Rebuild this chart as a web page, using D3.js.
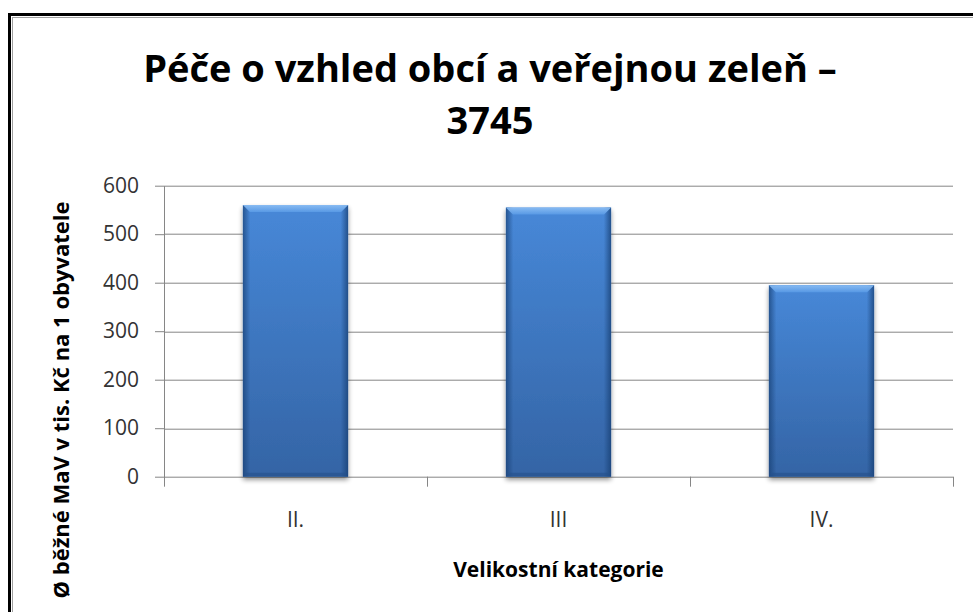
<!DOCTYPE html>
<html>
<head>
<meta charset="utf-8">
<script src="https://cdn.jsdelivr.net/npm/d3@7"></script>
<style>
  body { margin: 0; background: #fff; }
  svg { display: block; font-family: "Open Sans", "Noto Sans", sans-serif; }
</style>
</head>
<body>
<div id="chart"></div>
<script>
// data
const categories = ["II.", "III", "IV."];
const values = [560, 555, 395];
const yTicks = [0, 100, 200, 300, 400, 500, 600];
const titleLines = ["Péče o vzhled obcí a veřejnou zeleň –", "3745"];
const xTitle = "Velikostní kategorie";
const yTitle = "Ø běžné MaV v tis. Kč na 1 obyvatele";

const size = {width: 973, height: 612};
const margin = {top: 185.7, right: 20, bottom: 135.3, left: 164};
const width = size.width - margin.left - margin.right;
const height = size.height - margin.top - margin.bottom;

const svgRoot = d3.select("#chart").append("svg")
    .attr("width", size.width)
    .attr("height", size.height);

// gradients / shadow
const defs = svgRoot.append("defs");
const gFill = defs.append("linearGradient").attr("id", "barFill")
    .attr("x1", 0).attr("y1", 0).attr("x2", 0).attr("y2", 1);
gFill.append("stop").attr("offset", "0%").attr("stop-color", "#4788d8");
gFill.append("stop").attr("offset", "100%").attr("stop-color", "#3464a5");

const gSide = defs.append("linearGradient").attr("id", "barSide")
    .attr("x1", 0).attr("y1", 0).attr("x2", 1).attr("y2", 0);
gSide.append("stop").attr("offset", "0%").attr("stop-color", "#173f73").attr("stop-opacity", 0.7);
gSide.append("stop").attr("offset", "7%").attr("stop-color", "#173f73").attr("stop-opacity", 0);
gSide.append("stop").attr("offset", "93%").attr("stop-color", "#173f73").attr("stop-opacity", 0);
gSide.append("stop").attr("offset", "100%").attr("stop-color", "#173f73").attr("stop-opacity", 0.75);

const gTop = defs.append("linearGradient").attr("id", "barTop")
    .attr("x1", 0).attr("y1", 0).attr("x2", 0).attr("y2", 1);
gTop.append("stop").attr("offset", "0%").attr("stop-color", "#8ec0f5");
gTop.append("stop").attr("offset", "100%").attr("stop-color", "#5a9be6");

const shadow = defs.append("filter").attr("id", "barShadow")
    .attr("x", "-10%").attr("y", "-10%").attr("width", "120%").attr("height", "120%");
shadow.append("feGaussianBlur").attr("in", "SourceAlpha").attr("stdDeviation", 2.5);
shadow.append("feOffset").attr("dx", 0).attr("dy", 3).attr("result", "off");
shadow.append("feComponentTransfer").append("feFuncA").attr("type", "linear").attr("slope", 0.45);
const merge = shadow.append("feMerge");
merge.append("feMergeNode");
merge.append("feMergeNode").attr("in", "SourceGraphic");

// frame
svgRoot.append("rect")
    .attr("x", 9.5).attr("y", 14.5)
    .attr("width", 1100).attr("height", 800)
    .attr("fill", "none").attr("stroke", "#000").attr("stroke-width", 3);
svgRoot.append("rect")
    .attr("x", 12.5).attr("y", 17.5)
    .attr("width", 1100).attr("height", 800)
    .attr("fill", "none").attr("stroke", "#a0a0a0").attr("stroke-width", 1);

// title
svgRoot.append("text")
    .attr("text-anchor", "middle")
    .style("font-size", "38px").style("font-weight", "bold").attr("fill", "#000")
    .selectAll("tspan").data(titleLines).join("tspan")
    .attr("x", 490)
    .attr("y", (d, i) => 82 + i * 52)
    .text(d => d);

const svg = svgRoot.append("g")
    .attr("transform", "translate(" + margin.left + "," + margin.top + ")");

const xScale = d3.scaleBand().domain(categories).range([0, width])
    .paddingInner(0.6).paddingOuter(0.3);
const yScale = d3.scaleLinear().domain([0, 600]).range([height, 0]);

// gridlines
svg.append("g").attr("class", "grid")
    .selectAll("line").data(yTicks).join("line")
    .attr("x1", 0).attr("x2", width)
    .attr("y1", d => Math.round(yScale(d)) + 0.5)
    .attr("y2", d => Math.round(yScale(d)) + 0.5)
    .attr("stroke", "#868686").attr("stroke-width", 1);

// y axis
const yAxisG = svg.append("g").attr("class", "yAxisG")
    .call(d3.axisLeft(yScale).tickValues(yTicks).tickSize(9).tickSizeOuter(0).tickPadding(16));
yAxisG.select(".domain").attr("stroke", "#868686");
yAxisG.selectAll(".tick line").attr("stroke", "#868686");
yAxisG.selectAll(".tick text")
    .style("font-size", "21px").style("font-family", "Open Sans").attr("fill", "#333");

// x axis: tick marks between categories
const step = xScale.step();
const xBounds = d3.range(categories.length + 1).map(i => i * step);
svg.append("g").attr("class", "xTicks")
    .selectAll("line").data(xBounds).join("line")
    .attr("x1", d => Math.round(d) + 0.5).attr("x2", d => Math.round(d) + 0.5)
    .attr("y1", height).attr("y2", height + 10)
    .attr("stroke", "#868686");
svg.append("g").attr("class", "xLabels")
    .selectAll("text").data(categories).join("text")
    .attr("text-anchor", "middle")
    .attr("x", d => xScale(d) + xScale.bandwidth() / 2)
    .attr("y", height + 50)
    .style("font-size", "21px").attr("fill", "#333")
    .text(d => d);

// bars
const bars = svg.append("g").attr("class", "bars")
    .selectAll("g").data(categories.map((c, i) => ({cat: c, value: values[i]}))).join("g")
    .attr("transform", d => "translate(" + xScale(d.cat) + "," + yScale(d.value) + ")");
const bw = xScale.bandwidth();
const bevel = 7;
bars.append("rect")
    .attr("width", bw).attr("height", d => height - yScale(d.value))
    .attr("fill", "url(#barFill)").attr("filter", "url(#barShadow)");
bars.append("rect")
    .attr("width", bw).attr("height", d => height - yScale(d.value))
    .attr("fill", "url(#barSide)");
// top bevel
bars.append("path")
    .attr("d", "M0,0 L" + bw + ",0 L" + (bw - bevel) + "," + bevel + " L" + bevel + "," + bevel + " Z")
    .attr("fill", "url(#barTop)").attr("opacity", 0.9);
// bottom edge
bars.append("path")
    .attr("d", d => {
        const h = height - yScale(d.value);
        return "M0," + h + " L" + bw + "," + h + " L" + (bw - 4) + "," + (h - 4) + " L4," + (h - 4) + " Z";
    })
    .attr("fill", "#24508a").attr("opacity", 0.6);

// axis titles
svg.append("text")
    .attr("text-anchor", "middle")
    .attr("x", width / 2).attr("y", 577 - margin.top)
    .style("font-size", "21px").style("font-weight", "bold").attr("fill", "#000")
    .text(xTitle);

svgRoot.append("text")
    .attr("text-anchor", "middle")
    .attr("transform", "translate(69,400) rotate(-90)")
    .style("font-size", "22px").style("font-weight", "bold").attr("fill", "#000")
    .text(yTitle);
</script>
</body>
</html>
